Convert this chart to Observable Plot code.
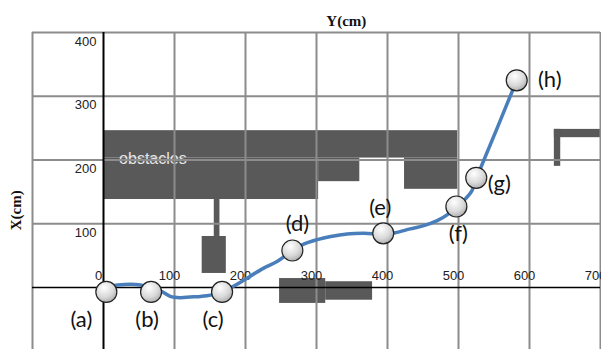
<!DOCTYPE html>
<html>
<head>
<meta charset="utf-8">
<script src="https://cdn.jsdelivr.net/npm/d3@7"></script>
<script src="https://cdn.jsdelivr.net/npm/@observablehq/plot@0.6"></script>
<style>
  html, body { margin: 0; padding: 0; background: white; }
</style>
</head>
<body>
<div id="chart"></div>
<script>
// ---- data ----
const xTicks = [0, 100, 200, 300, 400, 500, 600, 700];
const yTicks = [100, 200, 300, 400];
const xGrid = [-100, 100, 200, 300, 400, 500, 600, 700];
const yGrid = [100, 200, 300, 400];

// waypoints (a)-(h)
const ptNames = ["(a)", "(b)", "(c)", "(d)", "(e)", "(f)", "(g)", "(h)"];
const ptY = [4, 67, 167, 266, 394, 497, 525, 582];
const ptX = [-7, -7, -7, 58, 85, 127, 172, 325];

// robot trajectory
const pathY = [4, 20, 52, 67, 83, 94, 108, 122, 137, 151, 167, 183, 197, 225, 245, 266, 282, 301, 320, 343, 366, 394, 411, 432, 451, 470, 484, 497, 507, 519, 525, 531, 582];
const pathX = [1, 4, 4, -1, -7, -14, -16, -15, -14, -12, -7, 2, 11, 30, 41, 58, 68, 75, 80, 84, 85, 84, 86, 92, 97, 105, 114, 127, 136, 152, 172, 187, 325];

// obstacles (rectangles, in cm)
const obsY1 = [0, 0, 303, 424, 156, 139, 248, 313, 635, 635];
const obsY2 = [499, 303, 361, 499, 164, 173, 313, 379, 703, 644];
const obsX1 = [203, 138, 166, 154, 80, 22, -25, -20, 235, 190];
const obsX2 = [246, 203, 203, 203, 138, 80, 14, 9, 248, 248];

// ---- build ----
const obstacles = obsY1.map((_, i) => ({y1: obsY1[i], y2: obsY2[i], x1: obsX1[i], x2: obsX2[i]}));
const points = ptNames.map((n, i) => ({name: n, h: ptY[i], v: ptX[i]}));
const path = pathY.map((h, i) => ({h, v: pathX[i]}));

// label offsets (styling)
const labelOffset = {
  "(a)": [-25, 28], "(b)": [-4, 28], "(c)": [-9, 28], "(d)": [5, -27],
  "(e)": [-3, -25], "(f)": [2, 27], "(g)": [23, 6], "(h)": [33, 0]
};

const gridColor = "#8c8c8c";
const obsColor = "#595959";

const marks = [
  Plot.rect(obstacles, {x1: "y1", x2: "y2", y1: "x1", y2: "x2", fill: obsColor}),
  Plot.text(["obstacles"], {x: 22, y: 202, text: d => d, textAnchor: "start", fill: "#e6e6e6", fontSize: 16, fontFamily: "Liberation Sans"}),
  Plot.ruleX(xGrid, {stroke: gridColor, strokeWidth: 2}),
  Plot.ruleY(yGrid, {stroke: gridColor, strokeWidth: 2}),
  Plot.ruleY([0], {stroke: "#000", strokeWidth: 1.5}),
  Plot.ruleX([0], {stroke: "#000", strokeWidth: 2}),
  Plot.text(yTicks, {x: 0, y: d => d, text: d => String(d), textAnchor: "end", dx: -7, dy: 9, fontSize: 13, fill: "#222"}),
  Plot.text(xTicks, {x: d => d, y: 0, text: d => String(d), dx: -5, dy: -12, fontSize: 13, fill: "#222"}),
  Plot.line(path, {x: "h", y: "v", stroke: "#4a7ebb", strokeWidth: 3.5, curve: "catmull-rom"}),
  Plot.dot(points, {x: "h", y: "v", r: 10.5, fill: "url(#ballGrad)", stroke: "#222", strokeWidth: 1.2}),
  ...points.map(p => Plot.text([p], {x: "h", y: "v", text: "name", dx: labelOffset[p.name][0], dy: labelOffset[p.name][1], fontSize: 22, fontFamily: "Lato", fill: "#111"})),
  Plot.text(["Y(cm)"], {x: 342, y: 417, text: d => d, fontSize: 15, fontWeight: "bold", fontFamily: "Liberation Serif", fill: "#111"}),
  Plot.text(["X(cm)"], {x: -122.5, y: 121, text: d => d, rotate: -90, fontSize: 15, fontWeight: "bold", fontFamily: "Liberation Serif", fill: "#111"})
];

const svg = Plot.plot({
  width: 601,
  height: 349,
  marginLeft: 32,
  marginRight: 1,
  marginTop: 32,
  marginBottom: 0,
  x: {domain: [-100, 700], axis: null},
  y: {domain: [-97.3, 400], axis: null},
  style: {background: "white", fontFamily: "Liberation Sans", overflow: "hidden"},
  marks
});

const defs = d3.select(svg).insert("defs", ":first-child");
const g = defs.append("radialGradient").attr("id", "ballGrad")
  .attr("cx", "40%").attr("cy", "30%").attr("r", "75%");
g.append("stop").attr("offset", "0%").attr("stop-color", "#ffffff");
g.append("stop").attr("offset", "60%").attr("stop-color", "#d9d9d9");
g.append("stop").attr("offset", "100%").attr("stop-color", "#a8a8a8");

document.getElementById("chart").appendChild(svg);
</script>
</body>
</html>
